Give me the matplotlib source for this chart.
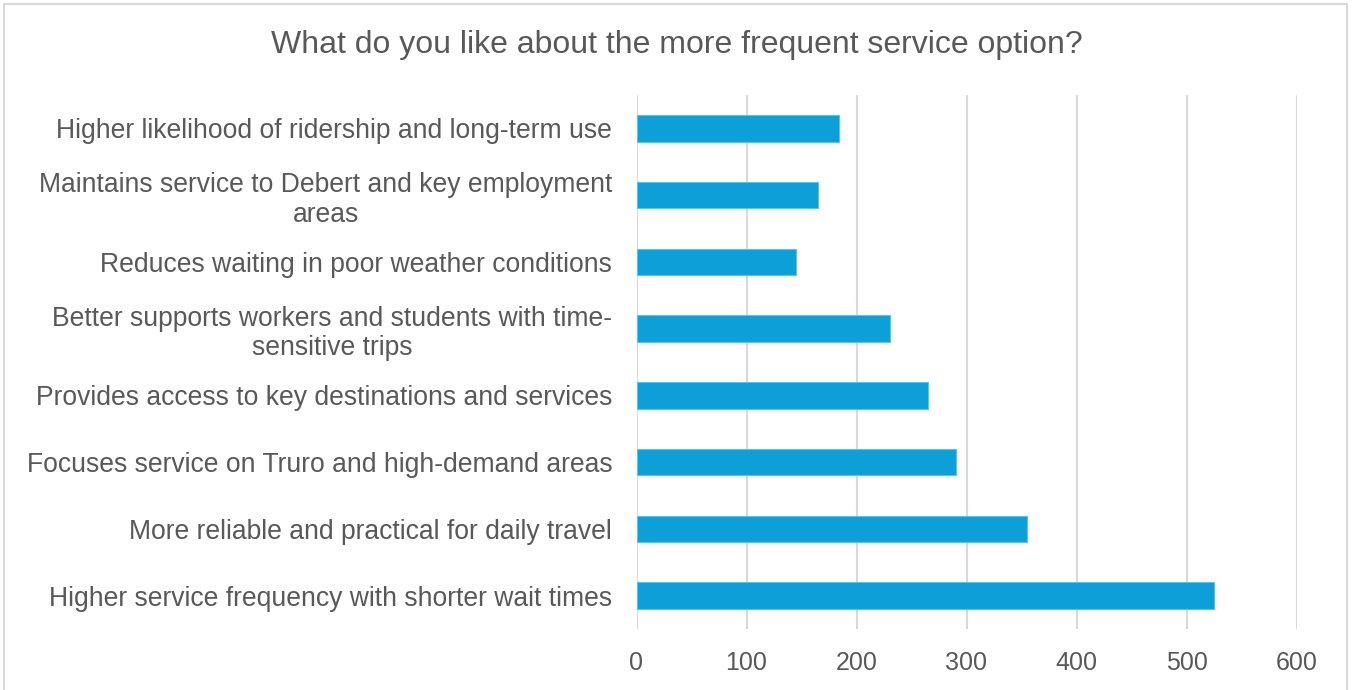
import matplotlib
matplotlib.use("Agg")
import matplotlib.pyplot as plt
from matplotlib.patches import Rectangle

# Survey responses (bottom to top as drawn)
categories = [
    "Higher service frequency with shorter wait times",
    "More reliable and practical for daily travel",
    "Focuses service on Truro and high-demand areas",
    "Provides access to key destinations and services",
    "Better supports workers and students with time-\nsensitive trips",
    "Reduces waiting in poor weather conditions",
    "Maintains service to Debert and key employment\nareas",
    "Higher likelihood of ridership and long-term use",
]
counts = [525, 355, 290, 265, 230, 145, 165, 184]
xticks = [0, 100, 200, 300, 400, 500, 600]

plt.rcParams["font.family"] = ["Liberation Sans", "DejaVu Sans"]
text_color = "#595959"
bar_color = "#0C9FD8"
grid_color = "#D9D9D9"

W, H = 1353, 690
fig = plt.figure(figsize=(W / 100, H / 100), dpi=100)
ax = fig.add_axes([636.5 / W, 1 - 629 / H, (1296.5 - 636.5) / W, (629 - 95) / H])

y = list(range(len(categories)))
ax.barh(y, counts, height=0.4, color=bar_color, edgecolor="#5BC3EC", linewidth=0.8, zorder=3)

ax.set_xlim(0, 600)
ax.set_ylim(-0.5, len(categories) - 0.5)
ax.set_xticks(xticks)
ax.set_xticklabels([str(t) for t in xticks], fontsize=18, color=text_color)
ax.set_yticks(y)
ax.set_yticklabels(categories, fontsize=19.1, color=text_color,
                   multialignment="center", linespacing=1.17)

ax.tick_params(axis="y", length=0, pad=17.5)
ax.tick_params(axis="x", length=0, pad=16)
ax.grid(axis="x", color=grid_color, linewidth=1.5, zorder=0)
for s in ax.spines.values():
    s.set_visible(False)

fig.text(677 / W, 1 - 45 / H, "What do you like about the more frequent service option?",
         ha="center", va="center", fontsize=23, color=text_color)

# chart border
fig.patches.append(Rectangle((4 / W, -0.01), (1347 - 4) / W, 1 - 4 / H + 0.01,
                             transform=fig.transFigure, fill=False,
                             edgecolor="#D9D9D9", linewidth=1.5))

fig.savefig("out.png", dpi=100)
